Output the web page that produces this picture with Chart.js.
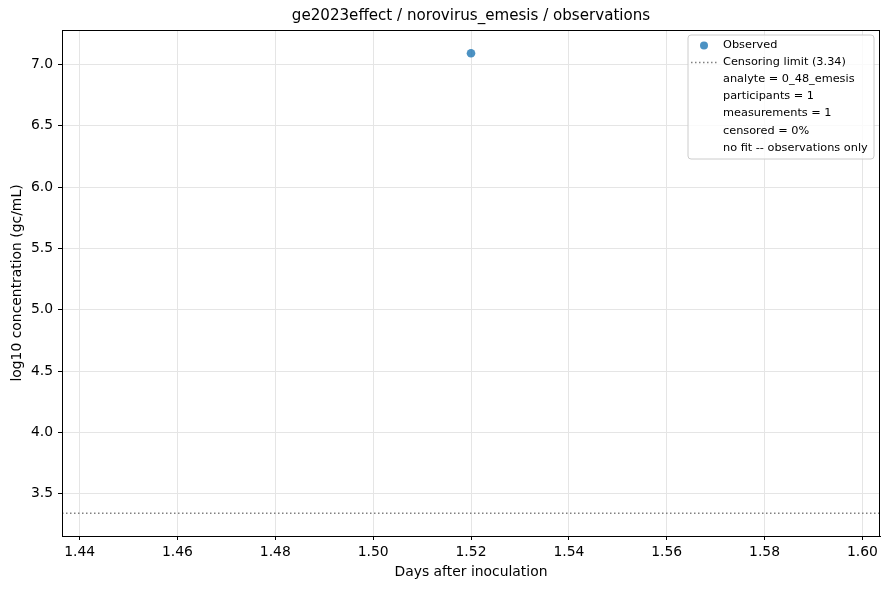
<!DOCTYPE html>
<html>
<head>
<meta charset="utf-8">
<script src="https://cdn.jsdelivr.net/npm/chart.js@4/dist/chart.umd.min.js"></script>
<style>
  html, body { margin: 0; padding: 0; background: #fff; }
  #wrap { width: 889px; height: 590px; position: relative; }
</style>
</head>
<body>
<div id="wrap"><canvas id="obs-chart"></canvas></div>
<script>
// data
const obsDays = [1.52];
const obsConc = [7.09];
const censorLimit = 3.34;
const xRange = [1.4364, 1.6036];
const yRange = [3.155, 7.28];
const xTicks = [1.44, 1.46, 1.48, 1.50, 1.52, 1.54, 1.56, 1.58, 1.60];
const yTicks = [3.5, 4.0, 4.5, 5.0, 5.5, 6.0, 6.5, 7.0];
const chartTitle = 'ge2023effect / norovirus_emesis / observations';
const legendLines = [
    'Observed',
    'Censoring limit (3.34)',
    'analyte = 0_48_emesis',
    'participants = 1',
    'measurements = 1',
    'censored = 0%',
    'no fit -- observations only'
];

const FONT = "'DejaVu Sans', sans-serif";
const FS = 13.9;
const pointColor = 'rgba(31, 119, 180, 0.8)';
const limitColor = '#808080';

// frame on all four sides, title over the plot area, legend box (matplotlib style)
const framePlugin = {
    id: 'frame',
    afterDraw(chart) {
        const { ctx, chartArea: a } = chart;
        ctx.save();
        ctx.strokeStyle = '#000';
        ctx.lineWidth = 1;
        ctx.strokeRect(Math.round(a.left) + 0.5, Math.round(a.top) + 0.5,
            Math.round(a.right - a.left) - 1, Math.round(a.bottom - a.top));

        // title centred on the axes, not on the canvas
        ctx.font = '15.1px ' + FONT;
        ctx.fillStyle = '#000';
        ctx.textAlign = 'center';
        ctx.textBaseline = 'middle';
        ctx.fillText(chartTitle, (a.left + a.right) / 2, 16);

        // legend
        const bx = 688, by = 35, bw = 186, bh = 124, r = 3;
        ctx.beginPath();
        ctx.moveTo(bx + r, by);
        ctx.arcTo(bx + bw, by, bx + bw, by + bh, r);
        ctx.arcTo(bx + bw, by + bh, bx, by + bh, r);
        ctx.arcTo(bx, by + bh, bx, by, r);
        ctx.arcTo(bx, by, bx + bw, by, r);
        ctx.closePath();
        ctx.fillStyle = 'rgba(255,255,255,0.8)';
        ctx.fill();
        ctx.strokeStyle = '#cccccc';
        ctx.stroke();

        const rowY = [45.5, 62.5, 79.5, 96.5, 113.5, 131, 148];
        ctx.font = '11.3px ' + FONT;
        ctx.fillStyle = '#000';
        ctx.textAlign = 'left';
        legendLines.forEach((t, i) => ctx.fillText(t, 723, rowY[i]));

        ctx.fillStyle = pointColor;
        ctx.beginPath();
        ctx.arc(704, rowY[0], 4, 0, Math.PI * 2);
        ctx.fill();

        ctx.strokeStyle = limitColor;
        ctx.lineWidth = 1.5;
        ctx.setLineDash([1.5, 2.5]);
        ctx.beginPath();
        ctx.moveTo(691, rowY[1]);
        ctx.lineTo(717, rowY[1]);
        ctx.stroke();
        ctx.restore();
    }
};

function createChart() {
    const ctx = document.getElementById('obs-chart').getContext('2d');
    new Chart(ctx, {
        type: 'scatter',
        data: {
            datasets: [
                {
                    label: 'Observed',
                    data: obsDays.map((d, i) => ({ x: d, y: obsConc[i] })),
                    backgroundColor: pointColor,
                    borderColor: pointColor,
                    pointRadius: 4.3,
                    borderWidth: 0
                },
                {
                    label: 'Censoring limit',
                    type: 'line',
                    data: [{ x: xRange[0], y: censorLimit }, { x: xRange[1], y: censorLimit }],
                    borderColor: limitColor,
                    borderWidth: 1.5,
                    borderDash: [1.5, 2.5],
                    pointRadius: 0
                }
            ]
        },
        options: {
            responsive: true,
            maintainAspectRatio: false,
            animation: false,
            layout: { padding: { left: 0, right: 9, top: 30, bottom: 0 } },
            plugins: {
                legend: { display: false },
                tooltip: { enabled: false },
                title: { display: false }
            },
            scales: {
                x: {
                    type: 'linear',
                    min: xRange[0],
                    max: xRange[1],
                    afterBuildTicks: scale => { scale.ticks = xTicks.map(v => ({ value: v })); },
                    afterFit: scale => { scale.height = 54; },
                    ticks: {
                        color: '#000',
                        font: { family: FONT, size: FS },
                        padding: 4,
                        maxRotation: 0,
                        callback: v => v.toFixed(2)
                    },
                    grid: { color: '#e5e5e5', tickColor: '#000', tickLength: 4 },
                    border: { color: '#000', width: 1 },
                    title: {
                        display: true,
                        text: 'Days after inoculation',
                        color: '#000',
                        font: { family: FONT, size: FS, lineHeight: 1.2 },
                        padding: { top: 0, bottom: 9.6 }
                    }
                },
                y: {
                    type: 'linear',
                    min: yRange[0],
                    max: yRange[1],
                    afterBuildTicks: scale => { scale.ticks = yTicks.map(v => ({ value: v })); },
                    afterFit: scale => { scale.width = 62; },
                    ticks: {
                        color: '#000',
                        font: { family: FONT, size: FS },
                        padding: 5,
                        callback: v => v.toFixed(1)
                    },
                    grid: { color: '#e5e5e5', tickColor: '#000', tickLength: 4 },
                    border: { color: '#000', width: 1 },
                    title: {
                        display: true,
                        text: 'log10 concentration (gc/mL)',
                        color: '#000',
                        font: { family: FONT, size: FS, lineHeight: 1.2 },
                        padding: { top: 9, bottom: 0 }
                    }
                }
            }
        },
        plugins: [framePlugin]
    });
}

document.addEventListener('DOMContentLoaded', createChart);
</script>
</body>
</html>
